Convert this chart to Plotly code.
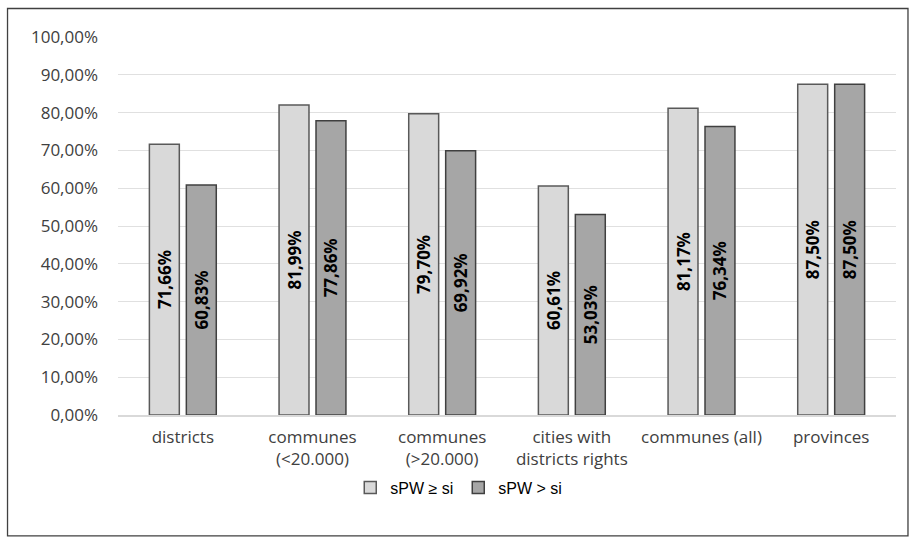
import plotly.graph_objects as go

categories = ["districts", "communes<br>(<20.000)", "communes<br>(>20.000)",
              "cities with<br>districts rights", "communes (all)", "provinces"]
series_ge = [71.66, 81.99, 79.70, 60.61, 81.17, 87.50]
series_gt = [60.83, 77.86, 69.92, 53.03, 76.34, 87.50]
name_ge = "sPW ≥ si"
name_gt = "sPW > si"
y_ticks = [0, 10, 20, 30, 40, 50, 60, 70, 80, 90, 100]
y_tick_labels = [f"{v},00%" for v in y_ticks]

def fmt(v):
    return f"{v:.2f}".replace(".", ",") + "%"

label_font = dict(family="Open Sans", size=17, color="#000000", weight="bold")

fig = go.Figure()
fig.add_trace(go.Bar(
    x=categories, y=series_ge, name=name_ge,
    marker=dict(color="#d9d9d9", line=dict(color="#595959", width=1.5)),
    text=[fmt(v) for v in series_ge], textposition="inside",
    insidetextanchor="middle", textangle=-90,
    textfont=label_font, cliponaxis=False, hoverinfo="skip",
))
fig.add_trace(go.Bar(
    x=categories, y=series_gt, name=name_gt,
    marker=dict(color="#a6a6a6", line=dict(color="#404040", width=1.5)),
    text=[fmt(v) for v in series_gt], textposition="inside",
    insidetextanchor="middle", textangle=-90,
    textfont=label_font, cliponaxis=False, hoverinfo="skip",
))

fig.update_layout(
    width=915, height=544,
    margin=dict(l=118, r=19, t=37, b=129),
    paper_bgcolor="white", plot_bgcolor="white",
    barmode="group", bargap=0.43, bargroupgap=0.19,
    font=dict(family="Open Sans", size=17, color="#404040"),
    showlegend=True,
    legend=dict(orientation="h", x=0.438, xanchor="center", y=-0.192, yanchor="middle",
                font=dict(family="Liberation Sans", size=16, color="#000000"),
                itemwidth=30, traceorder="normal"),
)
fig.update_yaxes(range=[0, 100], tickvals=y_ticks, ticktext=y_tick_labels,
                 showgrid=True, gridcolor="#e0e0e0", gridwidth=1.3,
                 zeroline=False, showline=False, ticks="",
                 ticklabelstandoff=19,
                 tickfont=dict(family="Open Sans", size=17, color="#404040"))
fig.update_xaxes(showline=True, linecolor="#d9d9d9", linewidth=1.5, ticks="",
                 ticklabelstandoff=6,
                 tickfont=dict(family="Open Sans", size=17, color="#404040"))

fig.add_shape(type="rect", xref="paper", yref="paper",
              x0=-0.142, x1=1.0154, y0=-0.320, y1=1.0754,
              line=dict(color="#404040", width=1.3), fillcolor="rgba(0,0,0,0)")

fig.write_html("out.html", config={"displayModeBar": False},
               post_script="document.body.style.margin='0px';")
